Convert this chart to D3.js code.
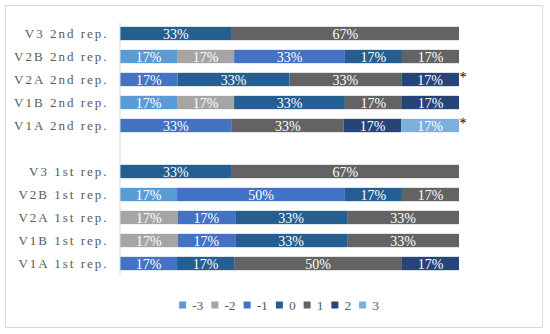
<!DOCTYPE html>
<html>
<head>
<meta charset="utf-8">
<script src="https://cdn.jsdelivr.net/npm/d3@7"></script>
<style>
  body { margin: 0; background: #fff; }
  svg { display: block; }
</style>
</head>
<body>
<div id="chart"></div>
<script>
// 类别（从上到下），中间空一行
const categories = [
  "V3 2nd rep.", "V2B 2nd rep.", "V2A 2nd rep.", "V1B 2nd rep.", "V1A 2nd rep.",
  "V3 1st rep.", "V2B 1st rep.", "V2A 1st rep.", "V1B 1st rep.", "V1A 1st rep."
];
const keys = ["-3", "-2", "-1", "0", "1", "2", "3"];

// 各评分的百分比
const sMinus3 = [0, 17, 0, 17, 0, 0, 17, 0, 0, 0];
const sMinus2 = [0, 17, 0, 17, 0, 0, 0, 17, 17, 0];
const sMinus1 = [0, 33, 17, 0, 33, 0, 50, 17, 17, 17];
const sZero   = [33, 17, 33, 33, 0, 33, 17, 33, 33, 17];
const sPlus1  = [67, 17, 33, 17, 33, 67, 17, 33, 33, 50];
const sPlus2  = [0, 0, 17, 17, 17, 0, 0, 0, 0, 17];
const sPlus3  = [0, 0, 0, 0, 17, 0, 0, 0, 0, 0];

const starred = ["V2A 2nd rep.", "V1A 2nd rep."];

const colors = ["#5b9bd5", "#a5a5a5", "#4472c4", "#255e91", "#636363", "#264478", "#7cafdd"];

const seriesList = [sMinus3, sMinus2, sMinus1, sZero, sPlus1, sPlus2, sPlus3];
const rows = categories.map((c, i) => {
  const r = { cat: c };
  keys.forEach((k, j) => { r[k] = seriesList[j][i]; });
  return r;
});

const width = 550, height = 334;
const font = "'Liberation Serif', 'Times New Roman', serif";

const svg = d3.select("#chart").append("svg")
  .attr("width", width)
  .attr("height", height);

// 外框
svg.append("rect")
  .attr("x", 5.5).attr("y", 5.5)
  .attr("width", 537).attr("height", 322)
  .attr("fill", "#fff")
  .attr("stroke", "#d9d9d9");

// y 轴域中插入空行
const spacer = " ";
const domain = categories.slice(0, 5).concat([spacer], categories.slice(5));

const x = d3.scaleLinear().domain([0, 1]).range([120, 459]);
const y = d3.scaleBand().domain(domain).range([22, 275])
  .paddingInner(0.42).paddingOuter(0.21);
const color = d3.scaleOrdinal().domain(keys).range(colors);

const stacked = d3.stack().keys(keys).offset(d3.stackOffsetExpand)(rows);

// 柱子
const layers = svg.append("g").selectAll("g")
  .data(stacked)
  .enter().append("g")
  .attr("fill", d => color(d.key));

layers.selectAll("rect")
  .data(d => d.filter(p => p.data[d.key] > 0))
  .enter().append("rect")
  .attr("x", d => x(d[0]))
  .attr("y", d => y(d.data.cat))
  .attr("width", d => x(d[1]) - x(d[0]))
  .attr("height", y.bandwidth());

// 数据标签
layers.selectAll("text")
  .data(d => d.filter(p => p.data[d.key] > 0).map(p => ({ p: p, key: d.key })))
  .enter().append("text")
  .attr("x", d => (x(d.p[0]) + x(d.p[1])) / 2)
  .attr("y", d => y(d.p.data.cat) + y.bandwidth() / 2 + 5)
  .attr("text-anchor", "middle")
  .attr("fill", "#fff")
  .style("font-family", font)
  .style("font-size", "14px")
  .text(d => d.p.data[d.key] + "%");

// 星号
svg.append("g").selectAll("text")
  .data(starred)
  .enter().append("text")
  .attr("x", 463)
  .attr("y", d => y(d) + y.bandwidth() / 2 + 2)
  .attr("text-anchor", "middle")
  .attr("fill", "#000")
  .style("font-family", font)
  .style("font-size", "14px")
  .text("*");

// y 轴
const yAxis = svg.append("g")
  .attr("transform", "translate(119.5,0)")
  .call(d3.axisLeft(y).tickSize(0).tickSizeOuter(0).tickPadding(11));
yAxis.select(".domain").attr("stroke", "#d9d9d9");
yAxis.selectAll("text")
  .attr("fill", "#595959")
  .attr("dy", "0.35em")
  .style("font-family", font)
  .style("font-size", "13px")
  .style("letter-spacing", "2px");

// 图例
const legend = svg.append("g");
const items = legend.selectAll("g")
  .data(keys)
  .enter().append("g");
items.append("rect")
  .attr("width", 7).attr("height", 7)
  .attr("y", 301.5)
  .attr("fill", d => color(d));
items.append("text")
  .attr("x", 13)
  .attr("y", 309.5)
  .attr("fill", "#595959")
  .style("font-family", font)
  .style("font-size", "13.5px")
  .text(d => d);

let cx = 0;
items.each(function () {
  const w = 13 + d3.select(this).select("text").node().getComputedTextLength();
  d3.select(this).attr("transform", `translate(${cx},0)`);
  cx += w + 8;
});
const total = cx - 8;
legend.attr("transform", `translate(${279 - total / 2},0)`);
</script>
</body>
</html>
